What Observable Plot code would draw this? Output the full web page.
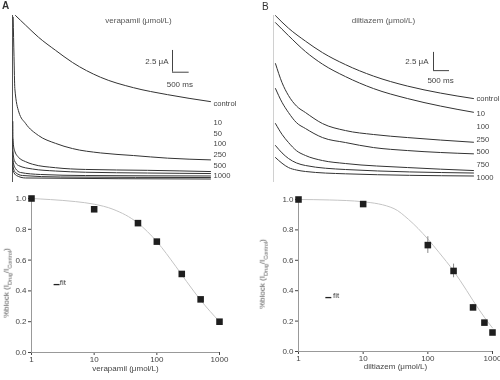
<!DOCTYPE html>
<html><head><meta charset="utf-8">
<script src="https://cdn.jsdelivr.net/npm/d3@7"></script>
<script src="https://cdn.jsdelivr.net/npm/@observablehq/plot@0.6"></script>
<style>
body{margin:0;background:#fff;}
#fig{position:relative;width:500px;height:380px;overflow:hidden;font-family:"Liberation Sans",Arial,sans-serif;color:#333;background:#fff;-webkit-font-smoothing:antialiased;}
.panel{position:absolute;will-change:transform;}
.letter{position:absolute;font-size:10px;line-height:10px;}
.ylab{position:absolute;font-size:8px;white-space:nowrap;transform:translate(-50%,-50%) rotate(-90deg);color:#555;}
.ylab sub{font-size:5.5px;}
</style></head><body><div id="fig"></div>
<script>
// ---------- Panel A top: verapamil current traces (time ms, current µA) ----------
const A_control = [[90,19.2],[390,18.1],[780,16.7],[1290,15.2],[1800,13.8],[2640,12.1],[3630,10.9],[4650,10.1],[5940,9.3]];
const A_10   = [[20,19],[45,14.5],[70,10.8],[190,8.1],[390,6.8],[780,5.4],[1290,4.5],[1800,3.9],[2640,3.4],[3630,3.1],[4650,2.8],[5940,2.6]];
const A_50   = [[10,7],[15,4.8],[60,3.7],[180,2.9],[390,2.4],[600,2.1],[1290,1.7],[2190,1.5],[4050,1.4],[5940,1.26]];
const A_100  = [[10,5],[15,3.45],[60,2.5],[180,1.95],[600,1.55],[1290,1.32],[2190,1.18],[4050,1.09],[5940,1.03]];
const A_250  = [[10,3.5],[15,2.5],[90,1.6],[240,1.15],[840,0.92],[2190,0.8],[5940,0.75]];
const A_500  = [[10,2.6],[15,1.84],[90,1.15],[300,0.8],[1440,0.63],[5940,0.57]];
const A_1000 = [[10,2],[15,1.38],[120,0.8],[390,0.52],[5940,0.4]];
const spikeA = [0, 19.2];
const labelsA = ["control","10","50","100","250","500","1000"];
const titleA = "verapamil (μmol/L)";

// ---------- Panel B top: diltiazem current traces ----------
const B_control = [[62,22.88],[469,21.16],[1000,19.38],[1531,17.81],[2250,16.16],[3125,14.59],[4188,13.22],[5219,12.26],[6250,11.51]];
const B_10   = [[62,21.92],[469,20.14],[1000,17.95],[1531,16.23],[2250,14.52],[3125,12.88],[4188,11.51],[5219,10.48],[6250,9.63]];
const B_100  = [[62,16.3],[266,13.7],[469,11.92],[719,10.48],[1000,9.59],[1531,8.08],[2250,7.12],[3125,6.58],[4188,6.16],[6250,5.52]];
const B_250  = [[62,12.88],[266,11.0],[469,9.59],[719,8.2],[1000,7.40],[1531,6.16],[2250,5.48],[3125,4.79],[4188,4.38],[6250,3.93]];
const B_500  = [[62,8.08],[266,6.6],[469,5.48],[719,4.36],[1000,3.70],[1531,3.01],[2250,2.60],[4188,2.05],[6250,1.64]];
const B_750  = [[62,5.07],[266,4.06],[469,3.29],[719,2.68],[1000,2.33],[2250,1.78],[6250,1.30]];
const B_1000 = [[62,3.42],[266,2.64],[469,2.05],[719,1.71],[1000,1.51],[2250,1.19],[6250,0.89]];
const spikeB = [0, 22.9];
const labelsB = ["control","10","100","250","500","750","1000"];
const titleB = "diltiazem (μmol/L)";

// ---------- Dose-response ----------
const concVerapamil  = [1,10,50,100,250,500,1000];
const blockVerapamil = [1.0,0.93,0.84,0.72,0.51,0.345,0.20];
const semVerapamil   = [0.005,0.01,0.01,0.015,0.015,0.01,0.01];
const fitVerapamilX  = [1,2,5,10,20,50,100,200,300,500,1000];
const fitVerapamilY  = [1.0,0.993,0.98,0.963,0.93,0.84,0.72,0.56,0.46,0.34,0.2];

const concDiltiazem  = [1,10,100,250,500,750,1000];
const blockDiltiazem = [1.0,0.97,0.70,0.53,0.29,0.19,0.125];
const semDiltiazem   = [0.005,0.01,0.055,0.045,0.02,0.015,0.01];
const fitDiltiazemX  = [1,3,10,30,50,100,150,250,400,500,750,1000];
const fitDiltiazemY  = [1.0,0.997,0.985,0.94,0.87,0.74,0.65,0.53,0.40,0.335,0.225,0.155];

const xTicks = [1,10,100,1000];
const yTicks = [0,0.2,0.4,0.6,0.8,1.0];
const xTitleA = "verapamil (μmol/L)";
const xTitleB = "diltiazem (μmol/L)";

// ---------- helpers ----------
const fig = document.getElementById("fig");
function place(node, left, top){
  const d = document.createElement("div");
  d.className = "panel"; d.style.left = left+"px"; d.style.top = top+"px";
  d.appendChild(node); fig.appendChild(d);
}
function rows(named){ return named.flatMap(([name, pairs]) => pairs.map(([t,i]) => ({name, t, i}))); }
const baseStyle = {background:"transparent", fontFamily:"Liberation Sans, Arial, sans-serif", fontSize:"8px", color:"#444", overflow:"visible"};

function tracePanel(o){
  const data = rows(o.traces);
  const sb = o.scale;
  const labelRows = o.labels.map((s,k)=>({s, i: k===0 ? o.labTop : o.lab2 - (k-1)*o.labStep}));
  return Plot.plot({
    width:250, height:190, marginLeft:o.ml, marginRight:o.mr, marginTop:15, marginBottom:8,
    style: baseStyle,
    x:{domain:[0,6000], axis:null},
    y:{domain:[0,o.ymax], axis:null},
    marks:[
      Plot.ruleX([{t:0, a:o.spike[0], b:o.spike[1]}], {x:"t", y1:"a", y2:"b", stroke:o.spikeColor, strokeWidth:1}),
      Plot.line(data, {x:"t", y:"i", z:"name", curve:"monotone-x", stroke:"#333", strokeWidth:1}),
      Plot.ruleX([sb], {x:"t", y1:"i", y2: d=>d.i+2.5, stroke:"#444"}),
      Plot.ruleY([sb], {y:"i", x1:"t", x2: d=>d.t+500, stroke:"#444"}),
      Plot.text([sb], {x:"t", y: d=>d.i+1.25, text: ()=> "2.5 μA", textAnchor:"end", dx:o.uaDx, fontSize:8, fill:"#444"}),
      Plot.text([sb], {x: d=>d.t+250, y:"i", text: ()=> "500 ms", dy:o.msDy, dx:-1, fontSize:8, fill:"#444"}),
      Plot.text(labelRows, {x: ()=>6000, y:"i", text:"s", textAnchor:"start", dx:o.labDx, fontSize:7.6, fill:"#444"}),
      Plot.text([o.title], {frameAnchor:"top", dx:o.titleDx, dy:2, fontSize:8, fill:"#555"})
    ]
  });
}

function dosePanel(o){
  const pts = o.x.map((c,k)=>({c, b:o.y[k], e:o.e[k]}));
  const fit = o.fx.map((c,k)=>({c, b:o.fy[k]}));
  return Plot.plot({
    width:250, height:195, marginLeft:o.ml, marginRight:o.mr, marginTop:o.mt, marginBottom:o.mb,
    style: baseStyle,
    x:{type:"log", domain:[1,1000], ticks:xTicks, tickFormat:d=>String(d), tickSize:3, tickPadding:1, label:null},
    y:{domain:[0,1], ticks:yTicks, tickFormat:d=>d.toFixed(1), tickSize:3, tickPadding:2, label:null},
    marks:[
      Plot.ruleX([1], {stroke:"#999"}),
      Plot.ruleY([0], {stroke:"#999"}),
      Plot.line(fit, {x:"c", y:"b", curve:"monotone-x", stroke:"#c4c4c4", strokeWidth:1}),
      Plot.ruleX(pts, {x:"c", y1:d=>d.b-d.e, y2:d=>d.b+d.e, stroke:"#888"}),
      Plot.dot(pts, {x:"c", y:"b", symbol:"square", r:3.7, fill:"#1e1e1e", stroke:"none"}),
      Plot.text(["–"], {frameAnchor:"top-left", dx:o.legDx, dy:o.legDy, fontSize:12, fontWeight:"bold", fill:"#222"}),
      Plot.text(["fit"], {frameAnchor:"top-left", dx:o.legDx+o.legGap, dy:o.legDy, textAnchor:"start", fontSize:8, fill:"#444"}),
      Plot.text([o.xt], {frameAnchor:"bottom", dy:o.xtDy, fontSize:8, fill:"#444"})
    ]
  });
}

// ---------- render ----------
place(tracePanel({
  traces:[["control",A_control],["10",A_10],["50",A_50],["100",A_100],["250",A_250],["500",A_500],["1000",A_1000]],
  ml:12, mr:38, ymax:19.2, spike:spikeA, spikeColor:"#555",
  scale:{t:4800, i:12.68}, uaDx:-4, msDy:12,
  labels:labelsA, labTop:9.08, lab2:6.9, labStep:1.23, labDx:1,
  title:titleA, titleDx:26
}), 0, 0);

place(tracePanel({
  traces:[["control",B_control],["10",B_10],["100",B_100],["250",B_250],["500",B_500],["750",B_750],["1000",B_1000]],
  ml:23, mr:35, ymax:22.9, spike:spikeB, spikeColor:"#d0d0d0",
  scale:{t:5000, i:15.34}, uaDx:-5, msDy:10,
  labels:labelsB, labTop:11.47, lab2:9.41, labStep:1.74, labDx:11,
  title:titleB, titleDx:14
}), 250, 0);

place(dosePanel({x:concVerapamil, y:blockVerapamil, e:semVerapamil, fx:fitVerapamilX, fy:fitVerapamilY,
  ml:31, mr:31, mt:13, mb:28, legDx:21.7, legDy:81, legGap:6.5, xt:xTitleA, xtDy:18}), 0, 185);
place(dosePanel({x:concDiltiazem, y:blockDiltiazem, e:semDiltiazem, fx:fitDiltiazemX, fy:fitDiltiazemY,
  ml:48, mr:8, mt:14, mb:29, legDx:26.5, legDy:93, legGap:8, xt:xTitleB, xtDy:17}), 250, 185);

// panel letters and y-axis titles
function html(cls, inner, left, top, extra){
  const d = document.createElement("div"); d.className = cls; d.innerHTML = inner;
  d.style.left = left+"px"; d.style.top = top+"px"; if (extra) Object.assign(d.style, extra);
  fig.appendChild(d);
}
html("letter", "A", 2, 1, {fontWeight:"bold"});
html("letter", "B", 262, 2);
const yTitle = "%block (I<sub>Drug</sub>/I<sub>Control</sub>)";
html("ylab", yTitle, 7, 283);
html("ylab", yTitle, 263, 274);
</script></body></html>
